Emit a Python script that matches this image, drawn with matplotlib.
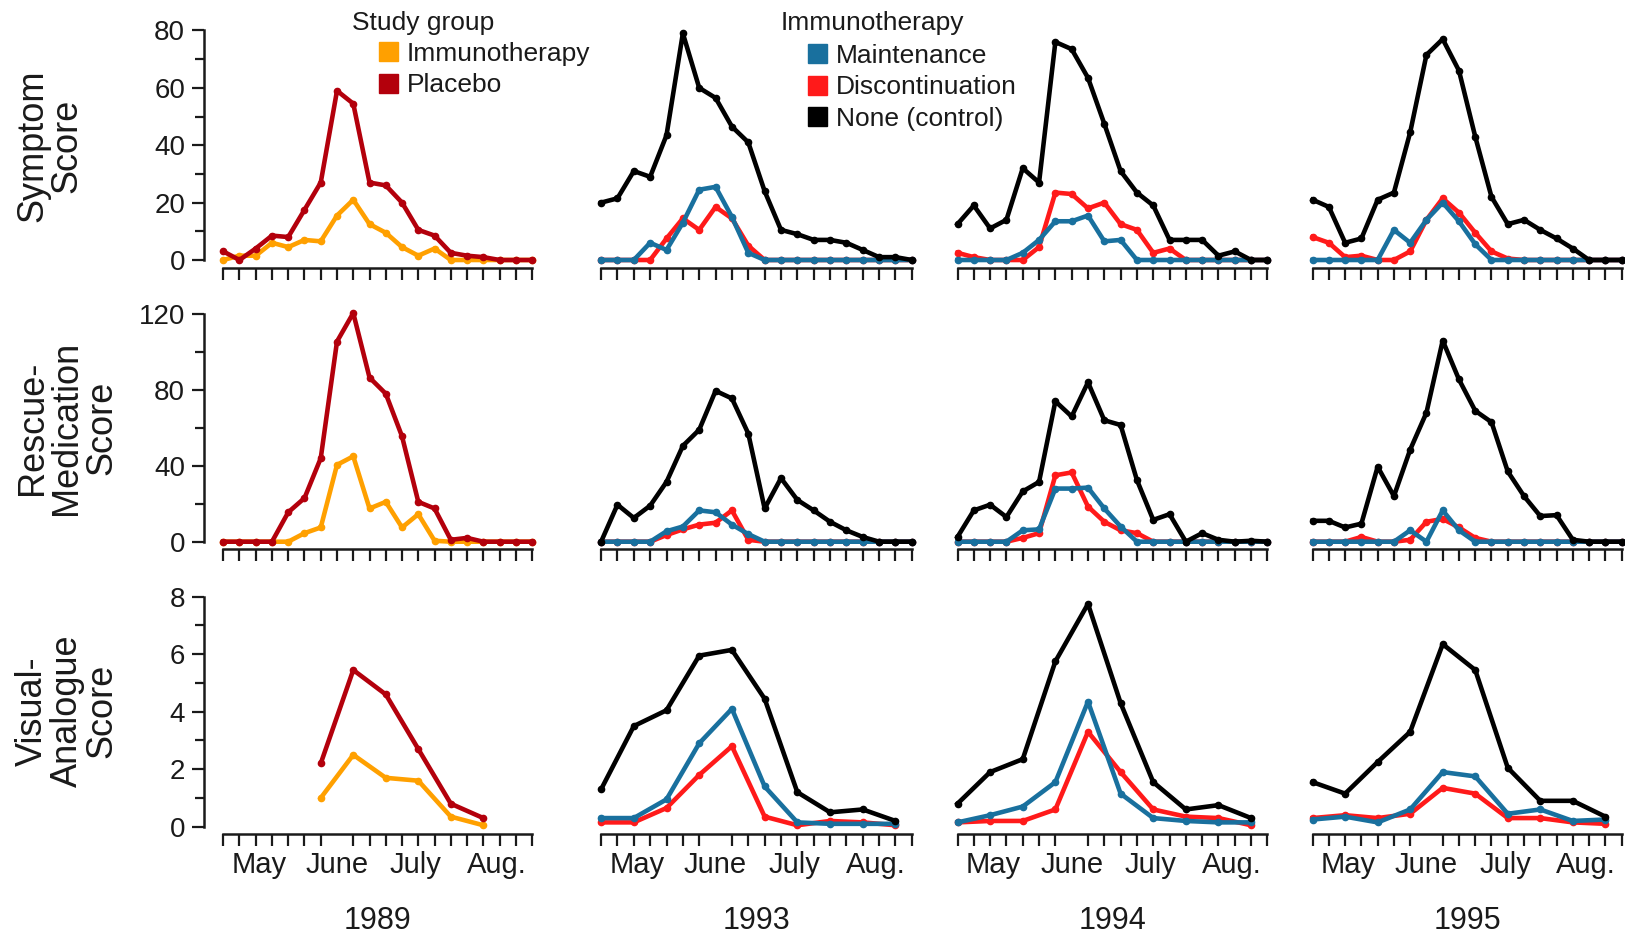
import matplotlib.pyplot as plt
from matplotlib.patches import Patch

plt.rcParams['font.family'] = ['Liberation Sans', 'DejaVu Sans']

YEARS = ['1989', '1993', '1994', '1995']
WEEKS = list(range(20))
VAS_WEEKS = list(range(0, 20, 2))
VAS_WEEKS_1989 = list(range(6, 17, 2))
MONTHS = ['May', 'June', 'July', 'Aug.']
MONTH_POS = [2.2, 7.0, 11.85, 16.8]

ROW_LABELS = ['Symptom\nScore', 'Rescue-\nMedication\nScore', 'Visual-\nAnalogue\nScore']
ROW_MAX = [80, 120, 8]
ROW_MAJOR = [[0, 20, 40, 60, 80], [0, 40, 80, 120], [0, 2, 4, 6, 8]]
ROW_MINOR = [[10, 30, 50, 70], [20, 60, 100], [1, 3, 5, 7]]

# symptom score, weekly
S89_IMMUNO = [0, 1.5, 1.5, 6, 4.5, 7, 6.5, 15.5, 21, 12.5, 9.5, 4.5, 1.5, 4, 0, 0, 0, 0, 0, 0]
S89_PLACEBO = [3, 0, 4, 8.5, 8, 17.5, 27, 59, 54.5, 27, 26, 20, 10.5, 8.5, 2.5, 1.5, 1, 0, 0, 0]
S93_MAINT = [0, 0, 0, 6, 3.5, 13, 24.5, 25.5, 15, 2.5, 0, 0, 0, 0, 0, 0, 0, 0, 0, 0]
S93_DISC = [0, 0, 0, 0, 7.5, 14.5, 10.5, 18.5, 14.5, 5, 0, 0, 0, 0, 0, 0, 0, 0, 0, 0]
S93_NONE = [20, 21.5, 31, 29, 43.5, 79, 60, 56.5, 46.5, 41, 24, 10.5, 9, 7, 7, 6, 3.5, 1, 1, 0]
S94_MAINT = [0, 0, 0, 0, 2.5, 7, 13.5, 13.5, 15.5, 6.5, 7, 0, 0, 0, 0, 0, 0, 0, 0, 0]
S94_DISC = [2.5, 1, 0, 0, 0, 4.5, 23.5, 23, 18, 20, 12.5, 10.5, 2.5, 4, 0, 0, 0, 0, 0, 0]
S94_NONE = [12.5, 19, 11, 14, 32, 27, 76, 73.5, 63.5, 47.5, 31, 23.5, 19, 7, 7, 7, 1.5, 3, 0, 0]
S95_MAINT = [0, 0, 0, 0, 0, 10.5, 6, 14, 20, 13.5, 5.5, 0, 0, 0, 0, 0, 0, 0, 0, 0]
S95_DISC = [8, 6, 1, 1.5, 0, 0, 3, 14, 21.5, 16.5, 9.5, 3, 0.5, 0, 0, 0, 0, 0, 0, 0]
S95_NONE = [21, 18.5, 6, 7.5, 21, 23.5, 44.5, 71.5, 77, 66, 43, 22, 12.5, 14, 10.5, 7.5, 4, 0, 0, 0]

# rescue-medication score, weekly
R89_IMMUNO = [0, 0, 0, 0, 0, 4.5, 7.5, 40.5, 45, 17.5, 21, 7.5, 14.5, 0.5, 0, 0, 0, 0, 0, 0]
R89_PLACEBO = [0, 0, 0, 0, 15.5, 23, 44, 105.5, 120.5, 86.5, 78, 55.5, 21, 17.5, 1, 2, 0, 0, 0, 0]
R93_MAINT = [0, 0, 0, 0, 5.5, 8, 16.5, 15.5, 9, 4, 0, 0, 0, 0, 0, 0, 0, 0, 0, 0]
R93_DISC = [0, 0, 0, 0, 3.5, 6.5, 9, 10, 16.5, 1, 0, 0, 0, 0, 0, 0, 0, 0, 0, 0]
R93_NONE = [0, 19.5, 12.5, 19, 31.5, 50.5, 59, 79.5, 75.5, 57, 17.5, 33.5, 22, 16.5, 10.5, 6, 2.5, 0, 0, 0]
R94_MAINT = [0, 0, 0, 0, 6, 6.5, 28, 28, 28.5, 17.5, 8, 0, 0, 0, 0, 0, 0, 0, 0, 0]
R94_DISC = [0, 0, 0, 0, 2, 4.5, 35, 36.5, 18.5, 10.5, 6, 4.5, 0, 0, 0, 0, 0, 0, 0, 0]
R94_NONE = [2.5, 16.5, 19.5, 13, 26.5, 31.5, 74, 66, 84, 64, 61.5, 32.5, 11.5, 14.5, 0, 4.5, 1, 0, 0.5, 0]
R95_MAINT = [0, 0, 0, 0, 0, 0, 6, 0, 16.5, 6, 0, 0, 0, 0, 0, 0, 0, 0, 0, 0]
R95_DISC = [0, 0, 0, 2.5, 0, 0, 1, 10.5, 12, 7.5, 2, 0, 0, 0, 0, 0, 0, 0, 0, 0]
R95_NONE = [11, 11, 7.5, 9.5, 39.5, 24, 48.5, 68, 106, 85.5, 69, 63, 37, 24, 13.5, 14, 1, 0, 0, 0]

# visual-analogue score, every second week
V89_IMMUNO = [1.0, 2.5, 1.7, 1.6, 0.35, 0.05]
V89_PLACEBO = [2.2, 5.45, 4.6, 2.7, 0.8, 0.3]
V93_MAINT = [0.3, 0.3, 0.95, 2.9, 4.1, 1.4, 0.15, 0.1, 0.1, 0.1]
V93_DISC = [0.15, 0.15, 0.65, 1.8, 2.8, 0.35, 0.05, 0.2, 0.15, 0.05]
V93_NONE = [1.3, 3.5, 4.05, 5.95, 6.15, 4.45, 1.2, 0.5, 0.6, 0.2]
V94_MAINT = [0.15, 0.4, 0.7, 1.55, 4.35, 1.15, 0.3, 0.2, 0.15, 0.15]
V94_DISC = [0.15, 0.2, 0.2, 0.6, 3.3, 1.9, 0.6, 0.35, 0.3, 0.05]
V94_NONE = [0.8, 1.9, 2.35, 5.75, 7.75, 4.3, 1.55, 0.6, 0.75, 0.3]
V95_MAINT = [0.25, 0.35, 0.15, 0.6, 1.9, 1.75, 0.45, 0.6, 0.2, 0.25]
V95_DISC = [0.3, 0.4, 0.3, 0.45, 1.35, 1.15, 0.3, 0.3, 0.15, 0.1]
V95_NONE = [1.55, 1.15, 2.25, 3.3, 6.35, 5.45, 2.05, 0.9, 0.9, 0.35]

ORANGE = '#ffa000'
DARK_RED = '#b3000c'
BLUE = '#19709e'
RED = '#ff1a1a'
BLACK = '#000000'
TEXT = '#1a1a1a'

STUDY_LABELS = ['Immunotherapy', 'Placebo']
STUDY_COLORS = [ORANGE, DARK_RED]
TRIAL_LABELS = ['Maintenance', 'Discontinuation', 'None (control)']
TRIAL_COLORS = [BLUE, RED, BLACK]

# (x, y, colour) in drawing order, per row and column
panels = [
    [
        [(WEEKS, S89_IMMUNO, ORANGE), (WEEKS, S89_PLACEBO, DARK_RED)],
        [(WEEKS, S93_DISC, RED), (WEEKS, S93_MAINT, BLUE), (WEEKS, S93_NONE, BLACK)],
        [(WEEKS, S94_DISC, RED), (WEEKS, S94_MAINT, BLUE), (WEEKS, S94_NONE, BLACK)],
        [(WEEKS, S95_DISC, RED), (WEEKS, S95_MAINT, BLUE), (WEEKS, S95_NONE, BLACK)],
    ],
    [
        [(WEEKS, R89_IMMUNO, ORANGE), (WEEKS, R89_PLACEBO, DARK_RED)],
        [(WEEKS, R93_DISC, RED), (WEEKS, R93_MAINT, BLUE), (WEEKS, R93_NONE, BLACK)],
        [(WEEKS, R94_DISC, RED), (WEEKS, R94_MAINT, BLUE), (WEEKS, R94_NONE, BLACK)],
        [(WEEKS, R95_DISC, RED), (WEEKS, R95_MAINT, BLUE), (WEEKS, R95_NONE, BLACK)],
    ],
    [
        [(VAS_WEEKS_1989, V89_IMMUNO, ORANGE), (VAS_WEEKS_1989, V89_PLACEBO, DARK_RED)],
        [(VAS_WEEKS, V93_DISC, RED), (VAS_WEEKS, V93_MAINT, BLUE), (VAS_WEEKS, V93_NONE, BLACK)],
        [(VAS_WEEKS, V94_DISC, RED), (VAS_WEEKS, V94_MAINT, BLUE), (VAS_WEEKS, V94_NONE, BLACK)],
        [(VAS_WEEKS, V95_DISC, RED), (VAS_WEEKS, V95_MAINT, BLUE), (VAS_WEEKS, V95_NONE, BLACK)],
    ],
]

W, H = 1625, 939
# panel boxes in pixels: first/last week tick, top tick/zero line
COL_PX = [(223.2, 532.1), (601.1, 911.8), (957.5, 1267.4), (1312.6, 1621.6)]
ROW_PX = [(30.5, 260.0), (314.0, 541.7), (596.7, 826.7)]
LABEL_Y_PX = [146, 428, 711]

fig = plt.figure(figsize=(W / 100, H / 100), dpi=100)

for r, (top, bottom) in enumerate(ROW_PX):
    for c, (left, right) in enumerate(COL_PX):
        ax = fig.add_axes([left / W, 1 - bottom / H, (right - left) / W, (bottom - top) / H])
        for x, y, color in panels[r][c]:
            ax.plot(x, y, color=color, lw=3.3, marker='o', ms=4.5, clip_on=False)

        ax.set_xlim(0, 19)
        ax.set_ylim(0, ROW_MAX[r])
        ax.patch.set_visible(False)
        for side in ['top', 'right']:
            ax.spines[side].set_visible(False)
        ax.spines['bottom'].set_position(('outward', 5.4))
        ax.spines['bottom'].set_linewidth(1.8)
        ax.spines['bottom'].set_color(TEXT)

        ax.set_xticks(WEEKS, minor=True)
        ax.tick_params(axis='x', which='minor', direction='out', length=8.6, width=1.6, color=TEXT)
        if r == 2:
            ax.set_xticks(MONTH_POS, MONTHS)
            ax.tick_params(axis='x', which='major', length=0, pad=12, labelsize=21, labelcolor=TEXT)
            ax.text(0.5 * (left + right) / W, 1 - 921 / H, YEARS[c], transform=fig.transFigure,
                    ha='center', va='center', fontsize=22, color=TEXT)
        else:
            ax.set_xticks([])

        if c == 0:
            ax.spines['left'].set_position(('outward', 13.5))
            ax.spines['left'].set_linewidth(1.8)
            ax.spines['left'].set_color(TEXT)
            ax.set_yticks(ROW_MAJOR[r])
            ax.set_yticks(ROW_MINOR[r], minor=True)
            ax.tick_params(axis='y', which='major', direction='out', length=8.6, width=1.6,
                           color=TEXT, pad=5.4, labelsize=20, labelcolor=TEXT)
            ax.tick_params(axis='y', which='minor', direction='out', length=6.5, width=1.6, color=TEXT)
        else:
            ax.spines['left'].set_visible(False)
            ax.set_yticks([])

for label, y in zip(ROW_LABELS, LABEL_Y_PX):
    fig.text(15 / W, 1 - y / H, label, rotation=90, ha='left', va='center',
             multialignment='center', linespacing=0.98, fontsize=26, color=TEXT)

# legends
fig.text(352 / W, 1 - 23 / H, 'Study group', ha='left', va='center', fontsize=19, color=TEXT)
fig.legend([Patch(color=col) for col in STUDY_COLORS], STUDY_LABELS,
           loc='upper left', bbox_to_anchor=(379 / W, 1 - 42 / H), frameon=False,
           fontsize=19, handlelength=0.72, handleheight=0.72, handletextpad=0.34,
           labelspacing=0.28, borderpad=0, borderaxespad=0, labelcolor=TEXT)

fig.text(781 / W, 1 - 23 / H, 'Immunotherapy', ha='left', va='center', fontsize=19, color=TEXT)
fig.legend([Patch(color=col) for col in TRIAL_COLORS], TRIAL_LABELS,
           loc='upper left', bbox_to_anchor=(808 / W, 1 - 44 / H), frameon=False,
           fontsize=19, handlelength=0.72, handleheight=0.72, handletextpad=0.34,
           labelspacing=0.28, borderpad=0, borderaxespad=0, labelcolor=TEXT)

fig.savefig('out.png', dpi=100)
